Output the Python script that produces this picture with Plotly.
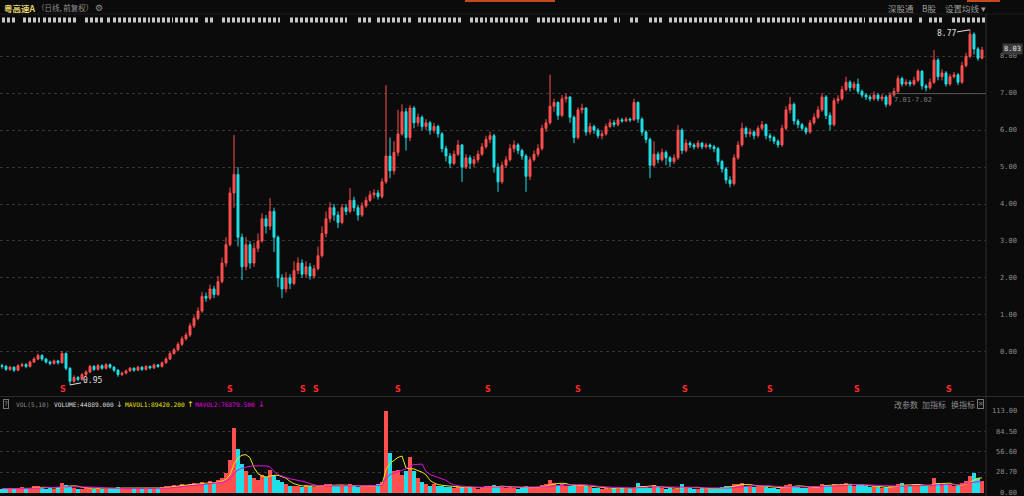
import plotly.graph_objects as go
import pandas as pd

W, H = 1024, 496
PLOT_W = 986  # right edge of the chart area (axis column to the right)

# ---------------- data ----------------
first_open = -0.38
closes = [
    -0.40, -0.48, -0.42, -0.50, -0.38, -0.35, -0.40, -0.28, -0.20, -0.10,
    -0.20, -0.28, -0.32, -0.25, -0.30, -0.05, -0.45, -0.80, -0.70, -0.75,
    -0.62, -0.55, -0.40, -0.48, -0.38, -0.45, -0.35, -0.42, -0.50, -0.62,
    -0.58, -0.52, -0.45, -0.50, -0.42, -0.48, -0.40, -0.44, -0.36, -0.40,
    -0.30, -0.20, -0.05, 0.05, 0.20, 0.35, 0.45, 0.70, 0.90, 1.10,
    1.50, 1.45, 1.70, 1.55, 1.90, 2.40, 2.90, 4.30, 4.80, 3.10,
    2.30, 2.90, 2.40, 2.80, 3.00, 3.60, 3.40, 3.80, 3.10, 2.00,
    1.70, 2.00, 1.85, 2.20, 2.40, 2.10, 2.30, 2.05, 2.25, 2.60,
    3.20, 3.60, 3.90, 3.70, 3.50, 3.90, 3.80, 4.10, 3.90, 3.70,
    3.95, 4.10, 4.25, 4.30, 4.20, 4.60, 5.30, 4.90, 5.40, 5.90,
    6.50, 5.80, 6.60, 6.20, 6.35, 6.10, 6.20, 6.00, 6.10, 5.90,
    5.50, 5.30, 5.10, 5.35, 5.60, 5.00, 5.25, 5.10, 5.20, 5.35,
    5.55, 5.75, 5.85, 5.00, 4.60, 5.05, 5.20, 5.50, 5.60, 5.45,
    5.30, 4.75, 5.20, 5.35, 5.50, 6.05, 6.20, 6.65, 6.75, 6.40,
    6.85, 6.90, 6.35, 5.80, 6.55, 6.60, 5.95, 6.10, 6.00, 5.85,
    5.90, 6.10, 6.20, 6.15, 6.28, 6.25, 6.30, 6.28, 6.75, 6.30,
    5.95, 5.75, 5.05, 5.35, 5.20, 5.40, 5.25, 5.15, 5.25, 6.00,
    5.45, 5.65, 5.60, 5.55, 5.65, 5.55, 5.60, 5.55, 5.50, 5.15,
    4.95, 4.65, 4.55, 5.25, 5.60, 6.05, 5.90, 5.95, 5.85, 6.05,
    6.15, 5.85, 5.80, 5.70, 5.60, 6.05, 6.55, 6.70, 6.25, 6.15,
    6.05, 5.95, 6.20, 6.35, 6.55, 6.90, 6.40, 6.15, 6.80, 6.85,
    7.10, 7.30, 7.15, 7.25, 7.05, 6.95, 6.90, 6.85, 6.95, 6.85,
    6.90, 6.70, 6.95, 7.05, 7.40, 7.25, 7.30, 7.25, 7.35, 7.60,
    7.20, 7.15, 7.30, 7.90, 7.45, 7.55, 7.25, 7.45, 7.50, 7.30,
    7.75, 8.00, 8.60, 8.20, 7.95, 8.17,
]
highs = [
    -0.33, -0.36, -0.38, -0.40, -0.34, -0.30, -0.31, -0.24, -0.15, -0.05,
    -0.07, -0.17, -0.24, -0.21, -0.22, 0.02, -0.02, -0.42, -0.64, -0.66,
    -0.58, -0.50, -0.35, -0.36, -0.33, -0.34, -0.31, -0.32, -0.39, -0.47,
    -0.54, -0.48, -0.41, -0.42, -0.38, -0.39, -0.36, -0.37, -0.32, -0.33,
    -0.26, -0.15, 0.00, 0.10, 0.26, 0.42, 0.52, 0.78, 0.98, 1.20,
    1.62, 1.60, 1.82, 1.78, 2.05, 2.55, 3.10, 4.45, 5.87, 5.00,
    3.20, 3.10, 3.00, 2.95, 3.20, 3.75, 3.70, 4.16, 3.90, 3.15,
    2.10, 2.15, 2.10, 2.45, 2.55, 2.50, 2.45, 2.40, 2.35, 2.85,
    3.40, 3.80, 4.05, 4.00, 3.80, 4.00, 4.00, 4.43, 4.20, 3.98,
    4.05, 4.20, 4.35, 4.40, 4.38, 4.70, 7.22, 5.80, 5.70, 6.55,
    6.70, 6.60, 6.68, 6.65, 6.45, 6.40, 6.30, 6.25, 6.20, 6.15,
    5.95, 5.58, 5.38, 5.45, 5.73, 5.62, 5.35, 5.32, 5.30, 5.45,
    5.65, 5.85, 5.96, 5.90, 5.10, 5.15, 5.30, 5.62, 5.72, 5.65,
    5.50, 5.35, 5.28, 5.45, 5.62, 6.15, 6.30, 7.50, 6.85, 6.78,
    6.95, 7.00, 6.92, 6.40, 6.62, 6.72, 6.62, 6.20, 6.15, 6.05,
    5.98, 6.18, 6.30, 6.28, 6.35, 6.33, 6.36, 6.34, 6.85, 6.78,
    6.35, 6.00, 5.80, 5.70, 5.42, 5.50, 5.45, 5.30, 5.35, 6.14,
    6.05, 5.75, 5.70, 5.65, 5.72, 5.68, 5.66, 5.64, 5.60, 5.55,
    5.20, 5.00, 4.75, 5.35, 5.70, 6.20, 6.10, 6.05, 6.00, 6.12,
    6.25, 6.18, 5.92, 5.85, 5.75, 6.15, 6.65, 6.90, 6.75, 6.30,
    6.20, 6.10, 6.28, 6.45, 6.65, 7.00, 6.95, 6.48, 6.88, 6.95,
    7.20, 7.45, 7.35, 7.32, 7.40, 7.10, 7.00, 6.96, 7.05, 7.00,
    6.98, 6.95, 7.02, 7.15, 7.48, 7.45, 7.38, 7.35, 7.45, 7.65,
    7.62, 7.25, 7.40, 8.17, 7.95, 7.65, 7.60, 7.52, 7.58, 7.55,
    7.85, 8.10, 8.72, 8.65, 8.25, 8.26,
]
lows = [
    -0.46, -0.52, -0.52, -0.55, -0.53, -0.42, -0.45, -0.43, -0.31, -0.23,
    -0.25, -0.32, -0.37, -0.35, -0.35, -0.32, -0.50, -0.90, -0.84, -0.80,
    -0.78, -0.66, -0.58, -0.52, -0.51, -0.49, -0.48, -0.46, -0.55, -0.68,
    -0.66, -0.61, -0.55, -0.54, -0.53, -0.52, -0.51, -0.48, -0.47, -0.44,
    -0.43, -0.33, -0.23, -0.08, 0.01, 0.15, 0.30, 0.40, 0.64, 0.85,
    1.05, 1.35, 1.40, 1.45, 1.50, 1.85, 2.30, 2.85, 3.90, 2.85,
    1.94, 2.20, 2.25, 2.30, 2.70, 2.95, 3.20, 3.30, 2.70, 1.75,
    1.45, 1.60, 1.70, 1.80, 2.10, 2.00, 2.00, 1.95, 1.98, 2.20,
    2.55, 3.10, 3.50, 3.55, 3.35, 3.45, 3.70, 3.75, 3.80, 3.55,
    3.65, 3.90, 4.05, 4.15, 4.12, 4.15, 4.55, 4.70, 4.80, 5.30,
    5.85, 5.45, 5.70, 6.05, 6.10, 6.00, 6.00, 5.88, 5.92, 5.80,
    5.40, 5.15, 4.97, 5.05, 5.30, 4.60, 4.95, 4.95, 5.00, 5.12,
    5.30, 5.50, 5.65, 4.85, 4.33, 4.55, 4.98, 5.15, 5.40, 5.35,
    5.20, 4.33, 4.65, 5.15, 5.28, 5.45, 5.95, 6.15, 6.50, 6.28,
    6.35, 6.75, 6.20, 5.65, 5.75, 6.45, 5.85, 5.88, 5.90, 5.78,
    5.75, 5.85, 6.05, 6.08, 6.10, 6.20, 6.22, 6.22, 6.25, 6.20,
    5.85, 5.65, 4.70, 5.00, 5.10, 5.15, 5.05, 5.00, 5.08, 5.20,
    5.35, 5.40, 5.52, 5.48, 5.50, 5.48, 5.50, 5.48, 5.40, 5.05,
    4.85, 4.55, 4.45, 4.50, 5.20, 5.55, 5.80, 5.82, 5.75, 5.80,
    6.00, 5.75, 5.70, 5.62, 5.52, 5.55, 6.00, 6.45, 6.15, 6.05,
    5.98, 5.88, 5.90, 6.15, 6.30, 6.50, 6.30, 6.00, 6.10, 6.72,
    6.80, 7.05, 7.05, 7.08, 6.98, 6.88, 6.82, 6.78, 6.80, 6.78,
    6.78, 6.62, 6.65, 6.90, 7.00, 7.18, 7.20, 7.18, 7.20, 7.30,
    7.10, 7.05, 7.10, 7.25, 7.35, 7.35, 7.18, 7.20, 7.40, 7.22,
    7.25, 7.70, 7.95, 8.05, 7.88, 7.92,
]
volumes = [
    6, 5, 7, 6, 5, 8, 6, 7, 9, 10, 7, 6, 7, 6, 8,
    14, 11, 9,
    7, 6, 6, 8, 7, 6, 7, 5, 6, 7, 6, 8, 7, 6, 5, 7, 6, 6, 7, 5, 6, 7, 8,
    9, 10, 11, 10, 12, 11, 13, 14, 12, 15, 13, 16, 14, 18, 20, 27,
    45, 89, 60, 40,
    30, 25, 20, 18, 25, 22, 32, 25, 18, 15, 12, 10,
    9, 10, 8, 11, 9, 8, 10, 11, 13, 12, 10, 9, 11, 10, 12, 9, 8, 10, 9, 11, 10, 12, 15,
    113, 55, 30, 32, 25, 30, 49, 30, 20, 15, 12, 10, 12, 9, 10, 8,
    8, 7, 9, 8, 7, 8, 7, 6, 8, 9, 10, 11, 9, 8, 7, 8, 7, 6, 7, 9,
    8, 7, 8, 11, 12, 18, 14, 11, 12, 10, 9, 11, 10, 9, 10, 8, 7, 7, 6, 7,
    6, 7, 6, 7, 6, 7, 7, 14, 10, 8, 7, 11, 8, 7, 6, 7, 6, 6, 12, 8,
    7, 6, 6, 7, 6, 6, 5, 7, 8, 9, 10, 13, 12, 14, 10, 9, 8, 9, 10, 8,
    7, 7, 6, 8, 11, 12, 10, 8, 7, 7, 8, 9, 10, 13, 11, 10, 12, 11, 12, 14,
    11, 10, 12, 11, 9, 8, 9, 8, 7, 8, 9, 10, 12, 14, 11, 10, 11, 13, 10, 9,
    10, 20, 14, 11, 12, 11, 10, 9, 14, 17, 24, 27, 20, 16,
]
assert len(closes) == len(highs) == len(lows) == len(volumes) == 246

price_ticks = [0, 1, 2, 3, 4, 5, 6, 7, 8]
vol_ticks = [113.0, 84.5, 56.6, 28.7, 0.0]
vol_grid = [28.7, 56.6, 84.5]
signal_idx = [15.25, 57, 75.25, 78.5, 99, 121.5, 144, 170.75, 192, 213.75, 236.75]
info_segments = [
    (0, 3.75), (5.25, 9.5), (10.25, 18.75), (20.75, 25.25), (26.25, 27),
    (27.75, 32.5), (32.75, 37), (37.5, 42.75), (43.25, 49.5), (50.75, 52.75),
    (55, 59.5), (60, 63.75), (64, 69.5), (72, 86.25), (89, 92.5),
    (93.75, 99.5), (100.25, 102.75), (104, 115.25), (117, 121.25), (122, 131.75),
    (133.75, 139.5), (140, 147.5), (148, 151.75), (153, 154.5), (157, 159.5),
    (161.75, 165.5), (166.75, 180), (180.75, 184.25), (184.5, 187.5), (188.75, 199.25),
    (200, 200.75), (201.75, 215.75), (216.75, 227.5), (229.25, 230), (231.75, 235),
    (237.5, 245.75),
]
peak_idx, peak_text = 242, "8.77"
low_idx, low_text = 17, "0.95"
level_value, level_start, level_text = 6.99, 221.5, "7.01-7.02"
last_price_text = "8.03"
signal_y = -1.04

# ---------------- styling ----------------
BG = "#0b0b0b"
RED = "#ff4f4f"
CYAN = "#1fe0e6"
GRID = "#363636"
LABEL = "#8c8c8c"
MONO = "DejaVu Sans Mono"
CJK = "Noto Sans CJK SC"

idx = list(range(len(closes)))
opens = [first_open] + closes[:-1]
up = [c >= o for o, c in zip(opens, closes)]
vol_colors = [RED if u else CYAN for u in up]
vs = pd.Series(volumes, dtype=float)
ma5 = vs.rolling(5, min_periods=1).mean()
ma10 = vs.rolling(10, min_periods=1).mean()

fig = go.Figure()

fig.add_trace(go.Candlestick(
    x=idx, open=opens, high=highs, low=lows, close=closes,
    increasing=dict(line=dict(color=RED, width=1), fillcolor=RED),
    decreasing=dict(line=dict(color=CYAN, width=1), fillcolor=CYAN),
    whiskerwidth=0, hoverinfo="skip", showlegend=False,
    xaxis="x", yaxis="y",
))

# 7.01-7.02 level line
fig.add_trace(go.Scatter(
    x=[level_start, len(closes)], y=[level_value, level_value], mode="lines",
    line=dict(color="#5a5a5a", width=1), hoverinfo="skip", showlegend=False,
    xaxis="x", yaxis="y",
))

# signal markers
fig.add_trace(go.Scatter(
    x=signal_idx, y=[signal_y] * len(signal_idx), mode="text", text=["<b>S</b>"] * len(signal_idx),
    textfont=dict(color="#ff2a2a", size=8, family="DejaVu Sans"),
    hoverinfo="skip", showlegend=False, xaxis="x", yaxis="y",
))

# volume bars + MA lines
fig.add_trace(go.Bar(
    x=idx, y=volumes, marker=dict(color=vol_colors, line=dict(width=0)), width=0.8,
    hoverinfo="skip", showlegend=False, xaxis="x", yaxis="y2",
))
fig.add_trace(go.Scatter(x=idx, y=ma5, mode="lines", line=dict(color="#e8e800", width=1),
                         hoverinfo="skip", showlegend=False, xaxis="x", yaxis="y2"))
fig.add_trace(go.Scatter(x=idx, y=ma10, mode="lines", line=dict(color="#e010e0", width=1),
                         hoverinfo="skip", showlegend=False, xaxis="x", yaxis="y2"))

# info marker row
seg_x, seg_y = [], []
for a, b in info_segments:
    seg_x += [a, b, None]
    seg_y += [0.5, 0.5, None]
fig.add_trace(go.Scatter(
    x=seg_x, y=seg_y, mode="lines", line=dict(color="#c8c8c8", width=5, dash="3px,2px"),
    hoverinfo="skip", showlegend=False, xaxis="x", yaxis="y3",
))


def px_x(x):
    return x / PLOT_W


def px_y(y):
    return 1 - y / H


ann = []
# right axis labels (price)
for v in price_ticks:
    ann.append(dict(xref="paper", yref="y", x=px_x(1019), y=v, text=f"{v:.2f}",
                    xanchor="right", yanchor="middle", showarrow=False,
                    font=dict(family=MONO, size=7, color=LABEL)))
# right axis labels (volume)
for v in vol_ticks:
    ann.append(dict(xref="paper", yref="y2", x=px_x(1019), y=v, text=f"{v:.2f}",
                    xanchor="right", yanchor="middle", showarrow=False,
                    font=dict(family=MONO, size=7, color=LABEL)))
# last price box
ann.append(dict(xref="paper", yref="y", x=px_x(1023), y=closes[-1], text=last_price_text,
                xanchor="right", yanchor="middle", showarrow=False, bgcolor="#3a3a3a",
                borderpad=1, yshift=1, font=dict(family=MONO, size=7, color="#e6e6e6")))
# peak / low annotations
ann.append(dict(x=peak_idx, y=highs[peak_idx], xref="x", yref="y", text=peak_text,
                showarrow=True, arrowhead=0, arrowcolor="#e0e0e0", arrowwidth=1,
                ax=-24, ay=4, font=dict(family=MONO, size=8, color="#e0e0e0")))
ann.append(dict(x=low_idx, y=lows[low_idx], xref="x", yref="y", text=low_text,
                showarrow=True, arrowhead=0, arrowcolor="#e0e0e0", arrowwidth=1,
                ax=22, ay=-4, font=dict(family=MONO, size=8, color="#e0e0e0")))
# level label
ann.append(dict(x=level_start + 1, y=level_value, xref="x", yref="y", text=level_text,
                xanchor="left", yanchor="top", showarrow=False,
                font=dict(family=MONO, size=7, color="#7a7a7a")))

# header texts
def txt(x, y, s, color, size=9, family=CJK, **kw):
    d = dict(xref="paper", yref="paper", x=px_x(x), y=px_y(y), text=s, showarrow=False,
             xanchor="left", yanchor="middle", font=dict(family=family, size=size, color=color))
    d.update(kw)
    ann.append(d)


txt(2, 8, "<b>粤高速A</b>", "#e2d46c", size=8.5)
txt(35, 8, "（日线, 前复权）", "#8e8e8e", size=7.5)
txt(93, 8, "⚙", "#8e8e8e", size=9, family="DejaVu Sans")
txt(886, 8, "深股通", "#9a9a9a", size=8.5)
txt(920, 8, "B股", "#9a9a9a", size=8.5)
txt(943, 8, "设置均线 ▾", "#9a9a9a", size=8.5)

# volume header
HY = 404
txt(3, HY, "?", "#9a9a9a", size=6.5, family=MONO, bordercolor="#777777", borderwidth=1, borderpad=0)
txt(14, HY, "VOL(5,10)", "#8a8a8a", size=6.2, family=MONO)
txt(52, HY, "VOLUME:44889.000", "#dcdcdc", size=6.2, family=MONO)
txt(114, HY, "↓", "#bdbdbd", size=8, family="DejaVu Sans")
txt(123, HY, "MAVOL1:89420.200", "#e6e600", size=6.2, family=MONO)
txt(185, HY, "↑", "#e6e600", size=8, family="DejaVu Sans")
txt(193, HY, "MAVOL2:76879.500", "#e000e0", size=6.2, family=MONO)
txt(256, HY, "↓", "#e000e0", size=8, family="DejaVu Sans")
txt(892, HY, "改参数", "#8a8a8a", size=8)
txt(920, HY, "加指标", "#8a8a8a", size=8)
txt(949, HY, "换指标", "#8a8a8a", size=8)
txt(977, HY, "✕", "#8a8a8a", size=6.5, family="DejaVu Sans", bordercolor="#777777",
    borderwidth=1, borderpad=0)

shapes = [
    # vertical separator of the right axis column
    dict(type="line", xref="paper", yref="paper", x0=1, x1=1, y0=0, y1=px_y(14),
         line=dict(color="#2c2c2c", width=1)),
    # panel separator
    dict(type="line", xref="paper", yref="paper", x0=0, x1=px_x(W), y0=px_y(396.5), y1=px_y(396.5),
         line=dict(color="#2c2c2c", width=1)),
    # header separator
    dict(type="line", xref="paper", yref="paper", x0=0, x1=px_x(W), y0=px_y(14), y1=px_y(14),
         line=dict(color="#1c1c1c", width=1)),
    # top tab highlights
    dict(type="rect", xref="paper", yref="paper", x0=px_x(465), x1=px_x(555), y0=px_y(2), y1=1,
         line=dict(width=0), fillcolor="#c24a1c"),
    dict(type="rect", xref="paper", yref="paper", x0=px_x(967), x1=px_x(1000), y0=px_y(2), y1=1,
         line=dict(width=0), fillcolor="#c24a1c"),
]

fig.update_layout(
    width=W, height=H, margin=dict(l=0, r=W - PLOT_W, t=0, b=0, autoexpand=False),
    paper_bgcolor=BG, plot_bgcolor=BG, showlegend=False, bargap=0,
    xaxis=dict(range=[-0.5, 246], showgrid=False, zeroline=False, showticklabels=False,
               showline=False, ticks="", rangeslider=dict(visible=False), fixedrange=True),
    yaxis=dict(domain=[px_y(396), px_y(26)], range=[-1.2, 8.822], tickvals=price_ticks,
               showticklabels=False, showgrid=True, gridcolor=GRID, griddash="dot",
               gridwidth=1, zeroline=False, showline=False, ticks="", fixedrange=True),
    yaxis2=dict(domain=[0, px_y(405)], range=[-4.13, 121.3], tickvals=vol_grid,
                showticklabels=False, showgrid=True, gridcolor=GRID, griddash="dot",
                gridwidth=1, zeroline=False, showline=False, ticks="", fixedrange=True),
    yaxis3=dict(domain=[px_y(26), px_y(14)], range=[0, 1], visible=False, fixedrange=True),
    annotations=ann, shapes=shapes,
)

fig.write_html(
    "out.html",
    config={"displayModeBar": False},
    post_script="document.body.style.margin='0';document.body.style.overflow='hidden';"
                "document.body.style.background='" + BG + "';",
)
